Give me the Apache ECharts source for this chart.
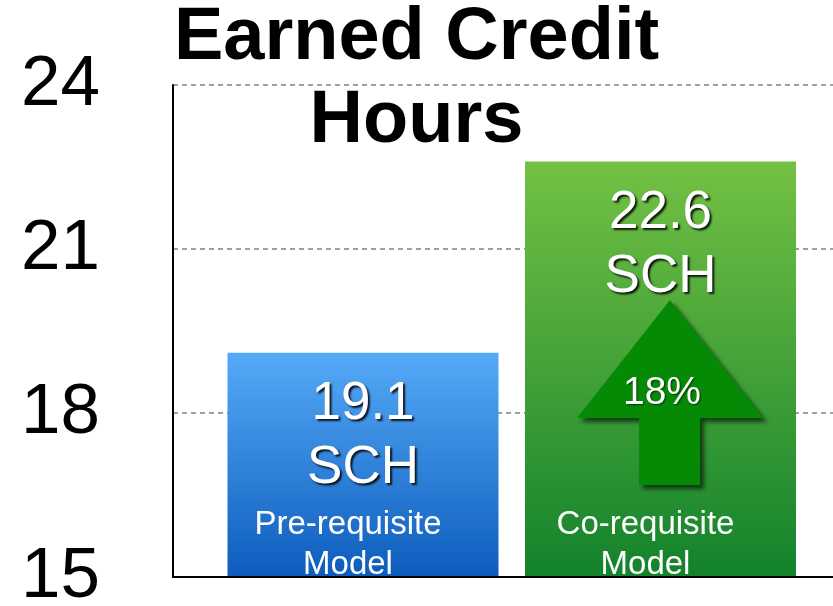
<!DOCTYPE html>
<html>
<head>
<meta charset="utf-8">
<script src="https://cdn.jsdelivr.net/npm/echarts@6/dist/echarts.min.js"></script>
<style>
  html, body { margin: 0; padding: 0; background: #fff; }
  #main { width: 833px; height: 606px; }
</style>
</head>
<body>
<div id="main"></div>
<script>
// data
const categories = ['Pre-requisite\nModel', 'Co-requisite\nModel'];
const creditHours = [19.1, 22.6];
const unitLabel = 'SCH';
const yTicks = [15, 18, 21, 24];
const arrowLevel = 18.375; // y value where the arrow sits

const chart = echarts.init(document.getElementById('main'), null, { renderer: 'canvas' });

const barColors = [
  ['#55aaf7', '#0d5cbd'],
  ['#73c144', '#13822c']
];

const increase = Math.round((creditHours[1] - creditHours[0]) / creditHours[0] * 100) + '%';

const font = '"Liberation Sans", Arial, Helvetica, sans-serif';
const arrowPath = 'path://M93,0 L186,118 L123,118 L123,185 L62,185 L62,118 L0,118 Z';

var option = {
  animation: false,
  title: {
    text: 'Earned Credit\nHours',
    left: 'center',
    top: -3,
    padding: 0,
    textStyle: {
      fontFamily: font,
      fontSize: 74,
      fontWeight: 'bold',
      lineHeight: 83,
      color: '#000'
    }
  },
  grid: [
    { left: 173, right: 0, top: 85, bottom: 29, outerBoundsMode: 'none', containLabel: false },
    { left: 214.25, right: 23.75, top: 85, bottom: 29, outerBoundsMode: 'none', containLabel: false }
  ],
  xAxis: [{
    gridIndex: 0,
    type: 'category',
    data: [''],
    z: 5,
    axisLine: { lineStyle: { color: '#000', width: 2 } },
    axisTick: { show: false },
    axisLabel: { show: false }
  }, {
    gridIndex: 1,
    type: 'category',
    data: categories,
    z: 5,
    axisLine: { show: false },
    axisTick: { show: false },
    axisLabel: {
      inside: true,
      interval: 0,
      margin: -8,
      color: '#fff',
      fontFamily: font,
      fontSize: 33,
      lineHeight: 40,
      padding: [0, 30, 0, 0]
    }
  }],
  yAxis: [{
    gridIndex: 0,
    type: 'value',
    min: yTicks[0],
    max: yTicks[yTicks.length - 1],
    interval: 3,
    axisLine: { show: true, lineStyle: { color: '#000', width: 2 } },
    axisTick: { show: false },
    axisLabel: {
      margin: 73,
      color: '#000',
      fontFamily: font,
      fontSize: 71
    },
    splitLine: {
      lineStyle: { color: '#a0a0a0', width: 2, type: [5, 4] }
    }
  }, {
    gridIndex: 1,
    type: 'value',
    min: yTicks[0],
    max: yTicks[yTicks.length - 1],
    startValue: yTicks[0],
    show: false,
    splitLine: { show: false }
  }],
  series: [{
    type: 'bar',
    xAxisIndex: 1,
    yAxisIndex: 1,
    barWidth: 271,
    z: 2,
    data: creditHours.map((v, i) => ({
      value: v,
      itemStyle: {
        color: new echarts.graphic.LinearGradient(0, 0, 0, 1, [
          { offset: 0, color: barColors[i][0] },
          { offset: 1, color: barColors[i][1] }
        ])
      }
    })),
    label: {
      show: true,
      position: 'insideTop',
      distance: 20,
      formatter: p => p.value + '\n' + unitLabel,
      color: '#fff',
      fontFamily: font,
      fontSize: 53,
      lineHeight: 64,
      textShadowColor: 'rgba(0,0,0,0.85)',
      textShadowOffsetX: 2,
      textShadowOffsetY: 2,
      textShadowBlur: 2
    },
    markPoint: {
      silent: true,
      data: [{
        coord: [1, arrowLevel],
        symbol: arrowPath,
        symbolSize: [186, 185],
        symbolOffset: [9.5, 0],
        value: increase
      }],
      itemStyle: {
        color: '#058a06',
        shadowColor: 'rgba(0,0,0,0.6)',
        shadowOffsetX: 4,
        shadowOffsetY: 4,
        shadowBlur: 4
      },
      label: {
        show: true,
        position: 'inside',
        offset: [-8, 1],
        formatter: '{c}',
        color: '#fff',
        fontFamily: font,
        fontSize: 39,
        textShadowColor: 'rgba(0,0,0,0.6)',
        textShadowOffsetX: 1,
        textShadowOffsetY: 1,
        textShadowBlur: 2
      }
    }
  }]
};

chart.setOption(option);
</script>
</body>
</html>
